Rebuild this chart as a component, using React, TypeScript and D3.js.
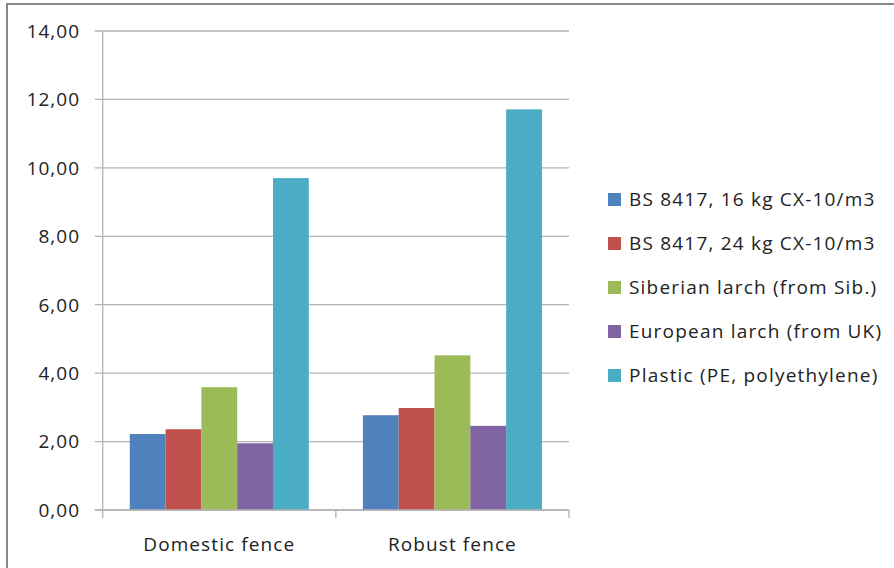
import * as d3 from "d3";
import { useEffect, useRef } from "react";

const categories = ["Domestic fence", "Robust fence"];
const series = [
  "BS 8417, 16 kg CX-10/m3",
  "BS 8417, 24 kg CX-10/m3",
  "Siberian larch (from Sib.)",
  "European larch (from UK)",
  "Plastic (PE, polyethylene)",
];
const colors = ["#4F81BD", "#C0504D", "#9BBB59", "#8064A2", "#4BACC6"];
// values per series: [domestic, robust]
const bs16 = [2.22, 2.77];
const bs24 = [2.36, 2.98];
const siberian = [3.59, 4.52];
const european = [1.95, 2.46];
const plastic = [9.7, 11.71];
const yTicks = [0, 2, 4, 6, 8, 10, 12, 14];

const values = [bs16, bs24, siberian, european, plastic];

export default function App() {
  const ref = useRef<SVGSVGElement | null>(null);

  useEffect(() => {
    if (!ref.current) return;
    const svg = d3.select(ref.current);
    svg.selectAll("*").remove();

    const font = "'Open Sans', sans-serif";
    const left = 102.7, right = 569, top = 31, bottom = 510;

    // outer frame
    svg.append("rect")
      .attr("x", 7).attr("y", 4)
      .attr("width", 900).attr("height", 600)
      .attr("fill", "white")
      .attr("stroke", "#878787")
      .attr("stroke-width", 2);

    const x0 = d3.scaleBand().domain(categories).range([left, right]).paddingInner(0.232).paddingOuter(0.116);
    const x1 = d3.scaleBand().domain(series).range([0, x0.bandwidth()]);
    const y = d3.scaleLinear().domain([0, 14]).range([bottom, top]);

    const g = svg.append("g");

    // gridlines + ticks
    g.selectAll("line.grid")
      .data(yTicks)
      .enter()
      .append("line")
      .attr("x1", left - 8)
      .attr("x2", right)
      .attr("y1", (d) => y(d))
      .attr("y2", (d) => y(d))
      .attr("stroke", "#B3B3B3")
      .attr("stroke-width", 1.3);

    g.selectAll("text.ytick")
      .data(yTicks)
      .enter()
      .append("text")
      .attr("x", 80)
      .attr("y", (d) => y(d))
      .attr("dy", "0.36em")
      .attr("text-anchor", "end")
      .attr("font-family", font)
      .attr("font-size", 19)
      .attr("letter-spacing", 1)
      .attr("fill", "#222")
      .text((d) => d3.format(".2f")(d).replace(".", ","));

    // bars
    categories.forEach((c, ci) => {
      series.forEach((s, si) => {
        const v = values[si][ci];
        g.append("rect")
          .attr("x", x0(c)! + x1(s)!)
          .attr("y", y(v))
          .attr("width", x1.bandwidth())
          .attr("height", y(0) - y(v))
          .attr("fill", colors[si]);
      });
    });

    // axes lines
    g.append("line")
      .attr("x1", left).attr("x2", left)
      .attr("y1", top).attr("y2", bottom + 8)
      .attr("stroke", "#B3B3B3").attr("stroke-width", 1.3);
    g.append("line")
      .attr("x1", left - 8).attr("x2", right)
      .attr("y1", bottom).attr("y2", bottom)
      .attr("stroke", "#B3B3B3").attr("stroke-width", 1.3);

    const step = (right - left) / categories.length;
    d3.range(1, categories.length + 1).forEach((i) => {
      g.append("line")
        .attr("x1", left + step * i).attr("x2", left + step * i)
        .attr("y1", bottom).attr("y2", bottom + 8)
        .attr("stroke", "#B3B3B3").attr("stroke-width", 1.3);
    });

    g.selectAll("text.xcat")
      .data(categories)
      .enter()
      .append("text")
      .attr("x", (d) => x0(d)! + x0.bandwidth() / 2)
      .attr("y", 551)
      .attr("text-anchor", "middle")
      .attr("font-family", font)
      .attr("font-size", 19)
      .attr("letter-spacing", 1.1)
      .attr("fill", "#222")
      .text((d) => d);

    // legend
    const legend = svg.append("g");
    series.forEach((s, i) => {
      const cy = 199.5 + i * 44;
      legend.append("rect")
        .attr("x", 608).attr("y", cy - 6.5)
        .attr("width", 13).attr("height", 13)
        .attr("fill", colors[i]);
      legend.append("text")
        .attr("x", 629).attr("y", cy)
        .attr("dy", "0.36em")
        .attr("font-family", font)
        .attr("font-size", 19)
        .attr("letter-spacing", 1.2)
        .attr("fill", "#222")
        .text(s);
    });
  }, []);

  return (
    <svg
      ref={ref}
      width={894}
      height={568}
      style={{ position: "absolute", left: 0, top: 0 }}
    />
  );
}
